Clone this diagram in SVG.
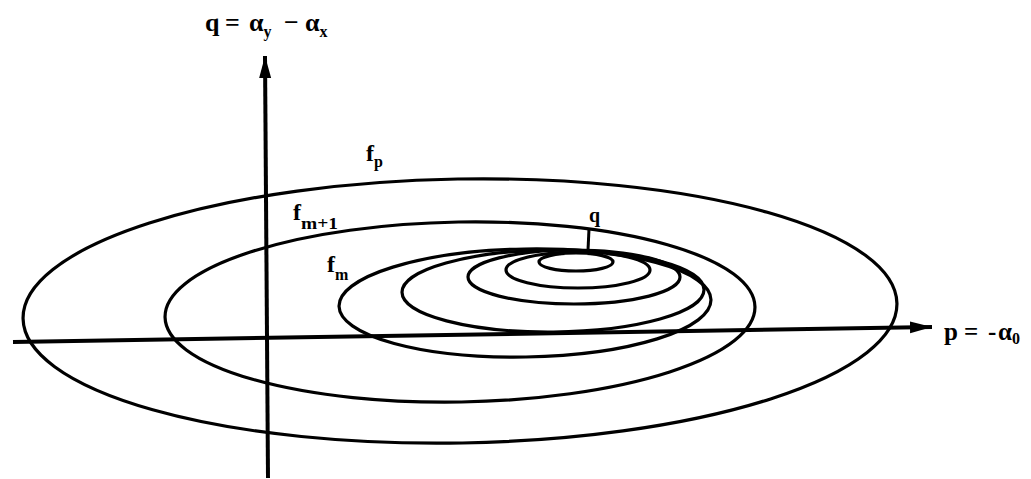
<svg xmlns="http://www.w3.org/2000/svg" width="1031" height="479" viewBox="0 0 1031 479">
<style>
.ell{fill:none;stroke:#000;stroke-width:3.2}
.ax{fill:none;stroke:#000;stroke-width:4}
.lbl{font-family:"Liberation Serif","Times New Roman",serif;font-weight:bold;fill:#000}
</style>
<defs>
<marker id="ah" markerUnits="userSpaceOnUse" markerWidth="24" markerHeight="16" refX="22" refY="8" orient="auto">
<path d="M0,2 L22,8 L0,14 Z" fill="#000"/>
</marker>
</defs>
<rect width="1031" height="479" fill="#fff"/>
<g id="connectors">
<line class="ax" x1="13" y1="342" x2="932" y2="327" marker-end="url(#ah)"/>
<line class="ax" x1="268" y1="478" x2="265" y2="56" marker-end="url(#ah)"/>
<line x1="589" y1="229" x2="588" y2="250" stroke="#000" stroke-width="3"/>
</g>
<g id="f_p">
<ellipse class="ell" cx="460" cy="311" rx="437" ry="132" transform="rotate(-1 460 311)"/>
<text class="lbl" x="366" y="161" font-size="24">f<tspan font-size="16" dy="6">p</tspan></text>
</g>
<g id="f_m1">
<ellipse class="ell" cx="460" cy="312" rx="295" ry="90" transform="rotate(-1 460 312)"/>
<text class="lbl" x="293" y="220" font-size="24">f<tspan font-size="16" dy="9" textLength="37" lengthAdjust="spacingAndGlyphs">m+1</tspan></text>
</g>
<g id="f_m">
<ellipse class="ell" cx="525" cy="303" rx="186" ry="54" transform="rotate(-1 525 303)"/>
<text class="lbl" x="327" y="272" font-size="24">f<tspan font-size="16" dy="8">m</tspan></text>
</g>
<g id="e4">
<ellipse class="ell" cx="553" cy="291" rx="151" ry="41" transform="rotate(-0.5 553 291)"/>
</g>
<g id="e3">
<ellipse class="ell" cx="574" cy="277" rx="106" ry="27"/>
</g>
<g id="e2">
<ellipse class="ell" cx="578" cy="270" rx="72" ry="18"/>
</g>
<g id="e1">
<ellipse class="ell" cx="576" cy="262" rx="37" ry="9"/>
<text class="lbl" x="589" y="222" font-size="20">q</text>
</g>
<g id="q-axis-label">
<text class="lbl" x="205" y="31" font-size="26">q<tspan x="225">=</tspan><tspan x="249">α</tspan><tspan font-size="16" dy="6">y</tspan><tspan x="284" dy="-6">−</tspan><tspan x="305">α</tspan><tspan font-size="16" dy="6">x</tspan></text>
</g>
<g id="p-axis-label">
<text class="lbl" x="944" y="340" font-size="25">p<tspan x="964">=</tspan><tspan x="988">-</tspan><tspan x="998">α</tspan><tspan font-size="16" dy="4">0</tspan></text>
</g>
</svg>
